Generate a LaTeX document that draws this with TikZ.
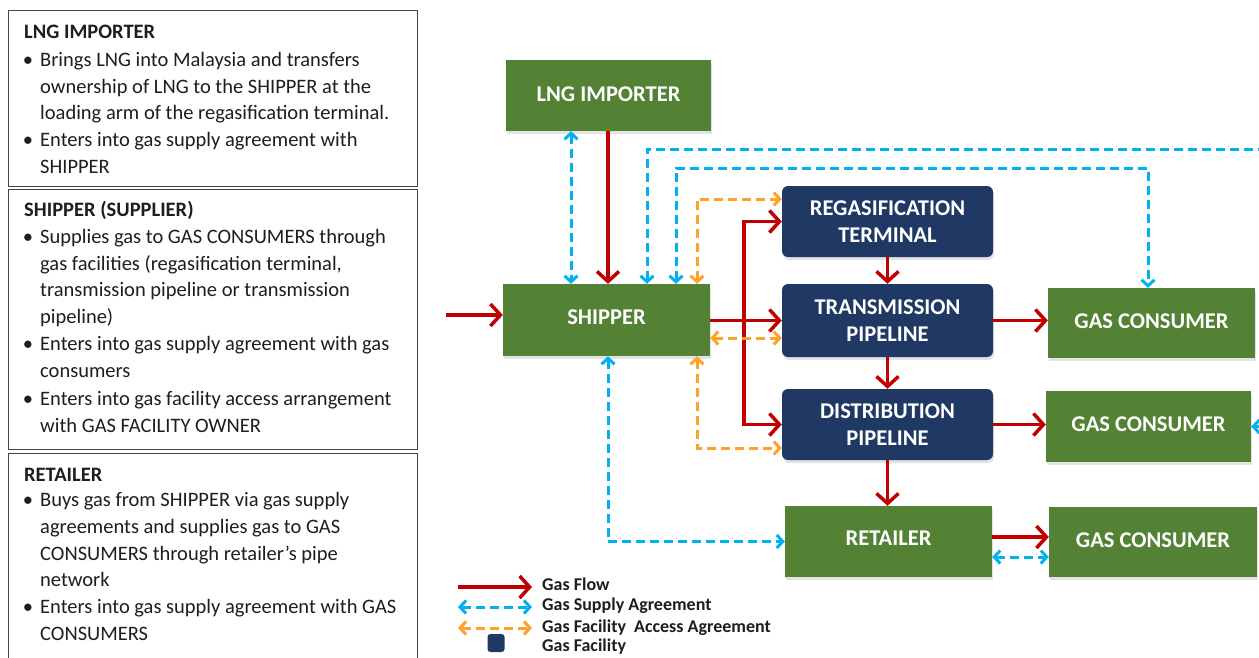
\documentclass[tikz,border=0pt]{standalone}
\usepackage{fontspec}
\setmainfont{Carlito}
\usetikzlibrary{arrows.meta,shadows,calc}
\definecolor{boxgreen}{RGB}{84,130,53}
\definecolor{navy}{RGB}{31,56,100}
\definecolor{flowred}{RGB}{192,0,0}
\definecolor{supblue}{RGB}{0,176,240}
\definecolor{accorange}{RGB}{255,163,40}
\definecolor{txtgray}{RGB}{30,30,30}
\definecolor{framegray}{RGB}{70,70,70}
\begin{document}
\begin{tikzpicture}[x=1pt,y=-1pt,
  boxlabel/.style={font=\bfseries\fontsize{22.5}{27}\selectfont, text=white, align=center, inner sep=0pt},
  gbox/.style={boxlabel, fill=boxgreen, drop shadow={shadow xshift=1pt,shadow yshift=-3pt,opacity=.22}},
  fbox/.style={boxlabel, fill=navy, rounded corners=6pt, drop shadow={shadow xshift=1pt,shadow yshift=-3pt,opacity=.22}},
  infobox/.style={draw=framegray, line width=1.2pt, anchor=north west, inner sep=0pt},
  ln/.style={anchor=base west, inner sep=0pt, text=txtgray, font=\fontsize{20.5}{26.7}\selectfont},
  ttl/.style={ln, font=\bfseries\fontsize{20.5}{26.7}\selectfont},
  flow/.style={draw=flowred, line width=3.5pt, -{Straight Barb[length=10pt,width=22pt]}},
  supply/.style={draw=supblue, line width=3pt, dash pattern=on 9pt off 5pt, {Straight Barb[length=6pt,width=13pt]}-{Straight Barb[length=6pt,width=13pt]}},
  access/.style={draw=accorange, line width=3pt, dash pattern=on 9pt off 5pt, {Straight Barb[length=6pt,width=13pt]}-{Straight Barb[length=6pt,width=13pt]}},
  legtext/.style={anchor=west, inner sep=0pt, font=\bfseries\fontsize{18}{20}\selectfont, text=txtgray}
]
\clip (0,0) rectangle (1259,657);
\fill[white] (0,0) rectangle (1259,657);

% ---------- left description boxes ----------
\node[infobox, minimum width=409pt, minimum height=176pt] (ib1) at (8,10) {};
\node[infobox, minimum width=409pt, minimum height=260pt] (ib2) at (8,189) {};
\node[infobox, minimum width=409pt, minimum height=220pt] (ib3) at (8,453) {};

\newcommand{\bul}{\makebox[0pt][r]{\textbullet\hspace{7pt}}}

\node[ttl] (a0) at (24,38.4) {LNG IMPORTER};
\node[ln] (a1) at (40,66.4) {\bul Brings LNG into Malaysia and transfers};
\node[ln] (a2) at (40,93.2) {ownership of LNG to the SHIPPER at the};
\node[ln] (a3) at (40,119.8) {loading arm of the regasification terminal.};
\node[ln] (a4) at (40,146.5) {\bul Enters into gas supply agreement with};
\node[ln] (a5) at (40,173.2) {SHIPPER};

\node[ttl] (b0) at (24,216.4) {SHIPPER (SUPPLIER)};
\node[ln] (b1) at (40,243.4) {\bul Supplies gas to GAS CONSUMERS through};
\node[ln] (b2) at (40,270.1) {gas facilities (regasification terminal,};
\node[ln] (b3) at (40,296.8) {transmission pipeline or transmission};
\node[ln] (b4) at (40,323.5) {pipeline)};
\node[ln] (b5) at (40,350.9) {\bul Enters into gas supply agreement with gas};
\node[ln] (b6) at (40,377.6) {consumers};
\node[ln] (b7) at (40,405.5) {\bul Enters into gas facility access arrangement};
\node[ln] (b8) at (40,432.5) {with GAS FACILITY OWNER};

\node[ttl] (c0) at (24,481) {RETAILER};
\node[ln] (c1) at (40,506.8) {\bul Buys gas from SHIPPER via gas supply};
\node[ln] (c2) at (40,533.5) {agreements and supplies gas to GAS};
\node[ln] (c3) at (40,560.2) {CONSUMERS through retailer’s pipe};
\node[ln] (c4) at (40,586.9) {network};
\node[ln] (c5) at (40,613.6) {\bul Enters into gas supply agreement with GAS};
\node[ln] (c6) at (40,640.3) {CONSUMERS};

% ---------- diagram boxes ----------
\node[gbox, minimum width=205pt, minimum height=71pt] (lng) at (608.5,95.5) {\raisebox{3.5pt}{LNG IMPORTER}};
\node[gbox, minimum width=207pt, minimum height=72pt] (shipper) at (606.5,320) {\raisebox{5pt}{SHIPPER}};
\node[fbox, minimum width=211pt, minimum height=71pt] (regas) at (887.5,221.5) {REGASIFICATION\\TERMINAL};
\node[fbox, minimum width=211pt, minimum height=73pt] (trans) at (887.5,320.5) {TRANSMISSION\\PIPELINE};
\node[fbox, minimum width=211pt, minimum height=71pt] (dist) at (887.5,424.5) {DISTRIBUTION\\PIPELINE};
\node[gbox, minimum width=207pt, minimum height=70pt] (gc1) at (1151.5,323) {\raisebox{4pt}{GAS CONSUMER}};
\node[gbox, minimum width=205pt, minimum height=71pt] (gc2) at (1148.5,426.5) {\raisebox{4.5pt}{GAS CONSUMER}};
\node[gbox, minimum width=207pt, minimum height=71pt] (retailer) at (888.5,541.5) {\raisebox{6pt}{RETAILER}};
\node[gbox, minimum width=208pt, minimum height=70pt] (gc3) at (1153,542) {\raisebox{4pt}{GAS CONSUMER}};

% lanes
\coordinate (xa) at (571,0);
\coordinate (xf) at (608,0);
\coordinate (xb) at (647,0);
\coordinate (xc) at (676,0);
\coordinate (xo) at (697,0);
\coordinate (xr) at (744,0);
\coordinate (xcg) at (1148,0);
\coordinate (xout) at (1275,0);
\coordinate (yin) at (0,315);
\coordinate (yb) at (0,149);
\coordinate (yc) at (0,168);
\coordinate (yo1) at (0,199);
\coordinate (yg) at (0,338);
\coordinate (yh) at (0,448);
\coordinate (yr3) at (0,537);
\coordinate (ye) at (0,557);
\coordinate (src) at (446,315);

% ---------- gas flow ----------
\draw[flow] (lng.south -| xf) -- (shipper.north -| xf);
\draw[flow] (src) -- (shipper.west |- yin);
\draw[flow] (shipper.east |- trans.west) -- (trans.west);
\draw[flow] (xr |- trans.west) |- (regas.west);
\draw[flow] (xr |- trans.west) |- (dist.west);
\draw[flow] (regas.south) -- (trans.north);
\draw[flow] (trans.south) -- (dist.north);
\draw[flow] (dist.south) -- (retailer.north -| dist.south);
\draw[flow] (trans.east) -- (gc1.west |- trans.east);
\draw[flow] (dist.east) -- (gc2.west |- dist.east);
\draw[flow] (retailer.east |- yr3) -- (gc3.west |- yr3);

% ---------- gas supply agreements ----------
\draw[supply] (lng.south -| xa) -- (shipper.north -| xa);
\draw[supply] (shipper.north -| xb) |- (xout |- yb) |- (gc2.east);
\draw[supply] (shipper.north -| xc) |- (xcg |- yc) -- (gc1.north -| xcg);
\draw[supply] (shipper.south -| xf) |- (retailer.west);
\draw[supply] (retailer.east |- ye) -- (gc3.west |- ye);

% ---------- gas facility access agreements ----------
\draw[access] (shipper.north -| xo) |- (regas.west |- yo1);
\draw[access] (shipper.east |- yg) -- (trans.west |- yg);
\draw[access] (shipper.south -| xo) |- (dist.west |- yh);

% ---------- legend ----------
\coordinate (l1a) at (458,587); \coordinate (l1b) at (532,587);
\coordinate (l2a) at (458,607); \coordinate (l2b) at (532,607);
\coordinate (l3a) at (458,628); \coordinate (l3b) at (532,628);
\draw[flow] (l1a) -- (l1b);
\draw[supply] (l2a) -- (l2b);
\draw[access] (l3a) -- (l3b);
\node[legtext] (lt1) at (542,584) {Gas Flow};
\node[legtext] (lt2) at (542,606) {Gas Supply Agreement};
\node[legtext] (lt3) at (542,628) {Gas Facility\ \ Access Agreement};
\node[fill=navy, rounded corners=3pt, minimum width=17pt, minimum height=18pt, inner sep=0pt] (lsq) at (496,643) {};
\node[legtext] (lt4) at (542,646.5) {Gas Facility};
\end{tikzpicture}
\end{document}
